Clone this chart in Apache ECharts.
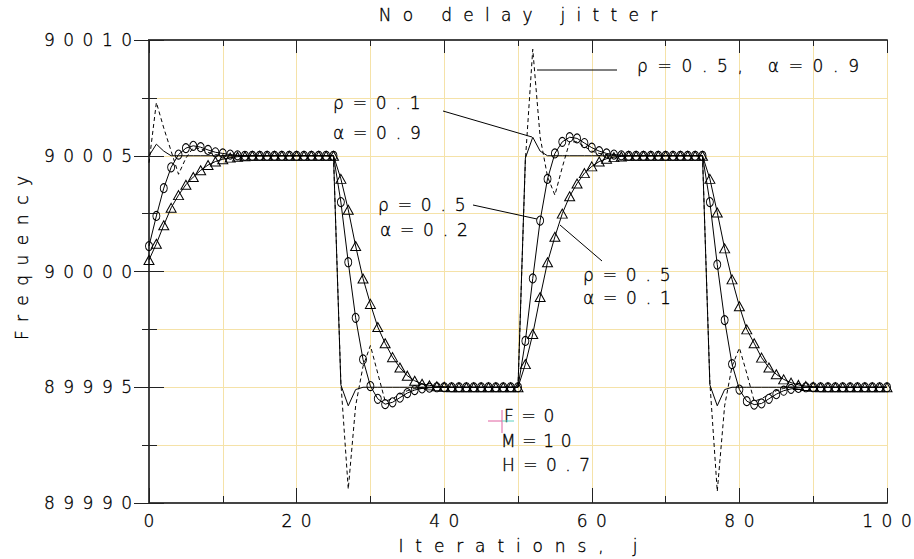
<!DOCTYPE html>
<html>
<head>
<meta charset="utf-8">
<script src="https://cdn.jsdelivr.net/npm/echarts@6/dist/echarts.min.js"></script>
<style>
  html, body { margin: 0; padding: 0; background: #fff; }
  #chart { width: 914px; height: 559px; }
  /* thin single-stroke lettering, drawn a touch darker */
  #chart svg text { stroke: #000; stroke-width: 0.35px; }
</style>
</head>
<body>
<div id="chart"></div>
<script>
// Frequency vs. iteration j (0..100), one value per iteration, rows of ten.

// rho = 0.1, alpha = 0.9  (solid, no markers)
const rho01Alpha09 = [
  90005.0, 90005.5, 90005.2, 90005.0, 90005.0, 90005.0, 90005.0, 90005.0, 90005.0, 90005.0,
  90005.0, 90005.0, 90005.0, 90005.0, 90005.0, 90005.0, 90005.0, 90005.0, 90005.0, 90005.0,
  90005.0, 90005.0, 90005.0, 90005.0, 90005.0, 90005.0, 89995.1, 89994.2, 89994.9, 89995.0,
  89995.0, 89995.0, 89995.0, 89995.0, 89995.0, 89995.0, 89995.0, 89995.0, 89995.0, 89995.0,
  89995.0, 89995.0, 89995.0, 89995.0, 89995.0, 89995.0, 89995.0, 89995.0, 89995.0, 89995.0,
  89995.0, 90004.9, 90005.8, 90005.2, 90005.0, 90005.0, 90005.0, 90005.0, 90005.0, 90005.0,
  90005.0, 90005.0, 90005.0, 90005.0, 90005.0, 90005.0, 90005.0, 90005.0, 90005.0, 90005.0,
  90005.0, 90005.0, 90005.0, 90005.0, 90005.0, 90005.0, 89995.1, 89994.2, 89994.9, 89995.0,
  89995.0, 89995.0, 89995.0, 89995.0, 89995.0, 89995.0, 89995.0, 89995.0, 89995.0, 89995.0,
  89995.0, 89995.0, 89995.0, 89995.0, 89995.0, 89995.0, 89995.0, 89995.0, 89995.0, 89995.0,
  89995.0
];

// rho = 0.5, alpha = 0.9  (dashed)
const rho05Alpha09 = [
  90004.7, 90007.3, 90006.2, 90005.2, 90004.2, 90004.9, 90005.35, 90005.3, 90005.15, 90005.05,
  90005.0, 90005.0, 90005.0, 90005.0, 90005.0, 90005.0, 90005.0, 90005.0, 90005.0, 90005.0,
  90005.0, 90005.0, 90005.0, 90005.0, 90005.0, 90005.0, 89995.2, 89990.6, 89994.2, 89995.9,
  89996.8, 89995.6, 89994.4, 89994.5, 89994.7, 89994.85, 89994.95, 89995.0, 89995.0, 89995.0,
  89995.0, 89995.0, 89995.0, 89995.0, 89995.0, 89995.0, 89995.0, 89995.0, 89995.0, 89995.0,
  89995.0, 90004.8, 90009.6, 90005.8, 90004.1, 90003.3, 90004.5, 90005.6, 90005.6, 90005.4,
  90005.2, 90005.1, 90005.05, 90005.0, 90005.0, 90005.0, 90005.0, 90005.0, 90005.0, 90005.0,
  90005.0, 90005.0, 90005.0, 90005.0, 90005.0, 90005.0, 89995.2, 89990.5, 89994.2, 89995.9,
  89996.7, 89995.6, 89994.4, 89994.5, 89994.7, 89994.85, 89994.95, 89995.0, 89995.0, 89995.0,
  89995.0, 89995.0, 89995.0, 89995.0, 89995.0, 89995.0, 89995.0, 89995.0, 89995.0, 89995.0,
  89995.0
];

// rho = 0.5, alpha = 0.2  (solid, circles)
const rho05Alpha02 = [
  90001.1, 90002.4, 90003.6, 90004.5, 90005.05, 90005.33, 90005.43, 90005.37, 90005.25, 90005.15,
  90005.1, 90005.05, 90005.02, 90005.0, 90005.0, 90005.0, 90005.0, 90005.0, 90005.0, 90005.0,
  90005.0, 90005.0, 90005.0, 90005.0, 90005.0, 90005.0, 90003.0, 90000.4, 89998.0, 89996.2,
  89995.05, 89994.5, 89994.27, 89994.35, 89994.55, 89994.75, 89994.88, 89994.95, 89994.98, 89995.0,
  89995.0, 89995.0, 89995.0, 89995.0, 89995.0, 89995.0, 89995.0, 89995.0, 89995.0, 89995.0,
  89995.0, 89997.0, 89999.7, 90002.2, 90004.0, 90005.1, 90005.6, 90005.8, 90005.75, 90005.55,
  90005.35, 90005.2, 90005.1, 90005.05, 90005.02, 90005.0, 90005.0, 90005.0, 90005.0, 90005.0,
  90005.0, 90005.0, 90005.0, 90005.0, 90005.0, 90005.0, 90003.0, 90000.3, 89997.9, 89996.0,
  89994.9, 89994.4, 89994.25, 89994.3, 89994.5, 89994.7, 89994.85, 89994.93, 89994.97, 89995.0,
  89995.0, 89995.0, 89995.0, 89995.0, 89995.0, 89995.0, 89995.0, 89995.0, 89995.0, 89995.0,
  89995.0
];

// rho = 0.5, alpha = 0.1  (solid, triangles)
const rho05Alpha01 = [
  90000.5, 90001.2, 90002.0, 90002.75, 90003.3, 90003.75, 90004.08, 90004.37, 90004.6, 90004.75,
  90004.85, 90004.92, 90004.96, 90004.98, 90005.0, 90005.0, 90005.0, 90005.0, 90005.0, 90005.0,
  90005.0, 90005.0, 90005.0, 90005.0, 90005.0, 90005.0, 90004.0, 90002.67, 90001.1, 89999.7,
  89998.6, 89997.6, 89996.9, 89996.3, 89995.85, 89995.5, 89995.28, 89995.15, 89995.08, 89995.04,
  89995.02, 89995.0, 89995.0, 89995.0, 89995.0, 89995.0, 89995.0, 89995.0, 89995.0, 89995.0,
  89995.0, 89996.0, 89997.3, 89998.9, 90000.4, 90001.5, 90002.5, 90003.25, 90003.8, 90004.25,
  90004.54, 90004.75, 90004.87, 90004.94, 90004.97, 90005.0, 90005.0, 90005.0, 90005.0, 90005.0,
  90005.0, 90005.0, 90005.0, 90005.0, 90005.0, 90005.0, 90004.0, 90002.55, 90001.0, 89999.66,
  89998.5, 89997.5, 89996.9, 89996.28, 89995.85, 89995.56, 89995.34, 89995.2, 89995.1, 89995.05,
  89995.02, 89995.0, 89995.0, 89995.0, 89995.0, 89995.0, 89995.0, 89995.0, 89995.0, 89995.0,
  89995.0
];

// axis ranges and tick steps
const xRange = [0, 100];
const xStep = 20;
const yRange = [89990, 90010];
const yStep = 5;

const FONT = 'DejaVu Sans';
const INK = '#000';
const GRID = '#f5e2a8';
const FRAME = '#444';
const CHAR_ADVANCE = 19.3;   // plotter lettering: every character takes the same width

const textStyle = { fontFamily: FONT, fontSize: 17, fontWeight: 200, color: INK };

function toPoints(values) {
  return values.map((v, j) => [j, v]);
}

const frameLine = { show: true, lineStyle: { color: FRAME, width: 2 } };
const tickLine = { color: '#222', width: 1 };

const chart = echarts.init(document.getElementById('chart'), null, { renderer: 'svg' });

const option = {
  animation: false,
  backgroundColor: '#fff',
  grid: { left: 149, right: 27, top: 40, bottom: 56 },
  xAxis: [
    {
      type: 'value', position: 'bottom',
      min: xRange[0], max: xRange[1], interval: xStep,
      axisLine: frameLine,
      axisTick: { show: true, inside: true, length: 15, lineStyle: tickLine },
      minorTick: { show: true, splitNumber: 2, length: 7, lineStyle: tickLine },
      splitLine: { show: true, lineStyle: { color: GRID, width: 1 } },
      minorSplitLine: { show: true, lineStyle: { color: GRID, width: 1 } },
      axisLabel: Object.assign({ margin: 9, formatter: v => String(v) }, textStyle),
      name: 'Iterations, j', nameLocation: 'middle', nameGap: 34,
      nameTextStyle: Object.assign({}, textStyle)
    },
    {
      type: 'value', position: 'top',
      min: xRange[0], max: xRange[1], interval: xStep,
      axisLine: frameLine,
      axisTick: { show: true, inside: true, length: 13, lineStyle: tickLine },
      minorTick: { show: true, splitNumber: 2, length: 6, lineStyle: tickLine },
      splitLine: { show: false },
      axisLabel: { show: false }
    }
  ],
  yAxis: [
    {
      type: 'value', position: 'left',
      min: yRange[0], max: yRange[1], interval: yStep,
      axisLine: frameLine,
      axisTick: { show: true, inside: true, length: 15, lineStyle: tickLine },
      minorTick: { show: true, splitNumber: 2, length: 8, lineStyle: tickLine },
      splitLine: { show: true, lineStyle: { color: GRID, width: 1 } },
      minorSplitLine: { show: true, lineStyle: { color: GRID, width: 1 } },
      axisLabel: Object.assign({ margin: 17, formatter: v => String(v) }, textStyle)
    },
    {
      type: 'value', position: 'right',
      min: yRange[0], max: yRange[1], interval: yStep,
      axisLine: frameLine,
      axisTick: { show: true, inside: true, length: 15, lineStyle: tickLine },
      minorTick: { show: true, splitNumber: 2, length: 7, lineStyle: tickLine },
      splitLine: { show: false },
      axisLabel: { show: false }
    }
  ],
  series: [
    {
      name: 'rho=0.1, alpha=0.9', type: 'line', data: toPoints(rho01Alpha09),
      showSymbol: false, lineStyle: { color: '#000', width: 1 }, z: 3
    },
    {
      name: 'rho=0.5, alpha=0.9', type: 'line', data: toPoints(rho05Alpha09),
      showSymbol: false, lineStyle: { color: '#000', width: 1, type: [4, 3] }, z: 3
    },
    {
      name: 'rho=0.5, alpha=0.2', type: 'line', data: toPoints(rho05Alpha02),
      symbol: 'circle', symbolSize: [7, 9], showAllSymbol: true,
      itemStyle: { color: 'rgba(0,0,0,0)', borderColor: '#000', borderWidth: 1 },
      lineStyle: { color: '#000', width: 1 }, z: 4
    },
    {
      name: 'rho=0.5, alpha=0.1', type: 'line', data: toPoints(rho05Alpha01),
      symbol: 'triangle', symbolSize: [10, 9], showAllSymbol: true,
      itemStyle: { color: 'rgba(0,0,0,0)', borderColor: '#000', borderWidth: 1 },
      lineStyle: { color: '#000', width: 1 }, z: 4
    }
  ]
};

chart.setOption(option);

// Title, y-axis name, curve annotations with leader lines, run parameters.
function label(text, x, y, extra) {
  return Object.assign({ type: 'text', x: x, y: y, z: 10,
    style: Object.assign({ text: text, fontFamily: FONT, fontSize: 17, fontWeight: 200,
             fill: INK, verticalAlign: 'middle' }, (extra && extra.style) || {}) },
    extra ? { rotation: extra.rotation || 0 } : {});
}
function leader(x1, y1, x2, y2, color, z) {
  return { type: 'line', z: z || 10,
    shape: { x1: x1, y1: y1, x2: x2, y2: y2 },
    style: { stroke: color || '#000', lineWidth: 1 } };
}

chart.setOption({
  graphic: [
    label('No delay jitter', 518, 15, { style: { align: 'center' } }),
    label('Frequency', 22, 258, { rotation: Math.PI / 2, style: { align: 'center' } }),
    label('ρ=0.5, α=0.9', 637, 66),
    leader(537, 70, 617, 70),
    label('ρ=0.1', 333, 103),
    label('α=0.9', 333, 133),
    leader(443, 111, 532, 137),
    label('ρ=0.5', 378, 205),
    label('α=0.2', 380, 230),
    leader(473, 205, 537, 219),
    label('ρ=0.5', 583, 275),
    label('α=0.1', 583, 298),
    leader(560, 225, 602, 261),
    label('F=0', 504, 416),
    label('M=10', 501, 441),
    label('H=0.7', 502, 465),
    // position cross drawn over the parameter text
    leader(488, 421, 502, 421, '#e060a0', 12),
    leader(502, 410, 502, 433, '#e060a0', 12),
    leader(502, 421, 514, 421, '#5fd0c0', 12)
  ]
});

// Give every string the fixed character pitch of plotter lettering: the gap
// after each glyph (but not the last) is widened through per-character dx, so
// text-anchor still places the visible glyph run where it was.
function applyCharacterPitch() {
  document.querySelectorAll('#chart svg text').forEach(t => {
    if (t.getAttribute('data-pitch')) return;
    const n = Array.from(t.textContent).length;
    if (n < 2) { t.setAttribute('data-pitch', '1'); return; }
    const natural = t.getComputedTextLength();
    const gap = Math.max(0, (n * CHAR_ADVANCE - natural) / n).toFixed(2);
    const dx = ['0'];
    for (let i = 1; i < n; i++) dx.push(gap);
    t.setAttribute('dx', dx.join(' '));
    t.setAttribute('data-pitch', '1');
  });
}
chart.on('finished', applyCharacterPitch);
applyCharacterPitch();
</script>
</body>
</html>
